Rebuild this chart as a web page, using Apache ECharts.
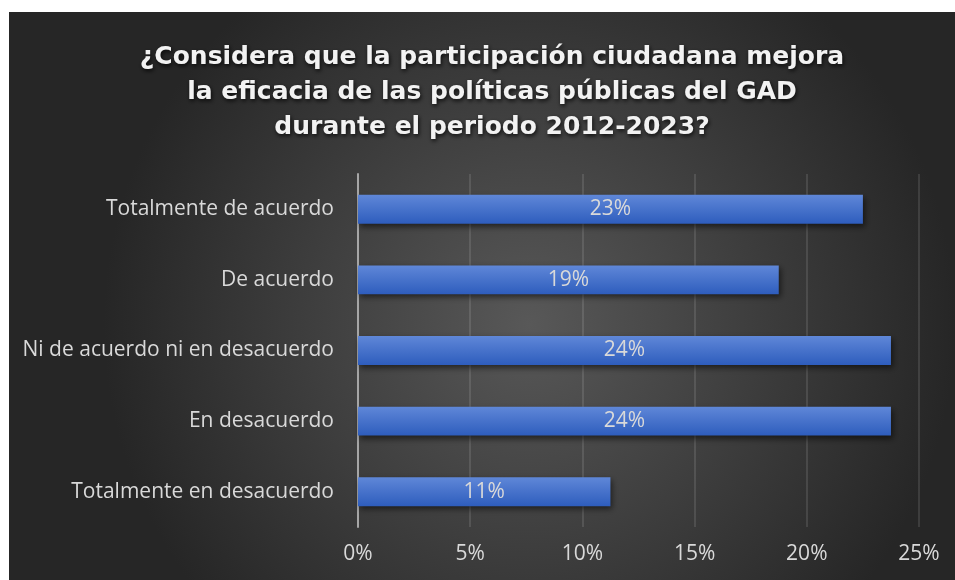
<!DOCTYPE html>
<html>
<head>
<meta charset="utf-8">
<script src="https://cdn.jsdelivr.net/npm/echarts@6/dist/echarts.min.js"></script>
<style>
  html, body { margin: 0; padding: 0; background: #fff; }
  #chart { width: 955px; height: 580px; }
</style>
</head>
<body>
<div id="chart"></div>
<script>
// respuestas en porcentaje (n = 80)
var categories = ['Totalmente de acuerdo', 'De acuerdo', 'Ni de acuerdo ni en desacuerdo', 'En desacuerdo', 'Totalmente en desacuerdo'];
var values = [22.5, 18.75, 23.75, 23.75, 11.25];
var ticks = [0, 5, 10, 15, 20, 25];
var titleText = '¿Considera que la participación ciudadana mejora\nla eficacia de las políticas públicas del GAD\ndurante el periodo 2012-2023?';

var myChart = echarts.init(document.getElementById('chart'));

var option = {
    backgroundColor: '#ffffff',
    animation: false,
    graphic: [{
        type: 'rect',
        z: -10,
        silent: true,
        shape: { x: 9, y: 12, width: 946, height: 568 },
        style: {
            fill: new echarts.graphic.RadialGradient(0.55, 0.55, 0.75, [
                { offset: 0, color: '#585858' },
                { offset: 1, color: '#262626' }
            ])
        }
    }],
    title: {
        text: titleText,
        left: 487,
        top: 35,
        textAlign: 'center',
        textStyle: {
            color: '#f2f2f2',
            fontFamily: 'DejaVu Sans',
            fontWeight: 'bold',
            fontSize: 25,
            lineHeight: 35,
            textShadowColor: 'rgba(0,0,0,0.8)',
            textShadowBlur: 4,
            textShadowOffsetX: 1,
            textShadowOffsetY: 2
        }
    },
    grid: {
        left: 358,
        right: 36,
        top: 174,
        bottom: 53
    },
    xAxis: {
        type: 'value',
        min: ticks[0],
        max: ticks[ticks.length - 1],
        interval: ticks[1] - ticks[0],
        axisLabel: {
            formatter: '{value}%',
            color: '#d9d9d9',
            fontFamily: 'Open Sans',
            fontSize: 21,
            margin: 17
        },
        axisLine: { show: false },
        axisTick: { show: false },
        splitLine: {
            lineStyle: { color: 'rgba(255,255,255,0.15)', width: 1.5 }
        }
    },
    yAxis: {
        type: 'category',
        inverse: true,
        data: categories,
        axisLabel: {
            color: '#d9d9d9',
            fontFamily: 'Open Sans',
            fontSize: 21,
            margin: 24
        },
        axisTick: { show: false },
        axisLine: {
            lineStyle: { color: '#a6a6a6', width: 2 }
        }
    },
    series: [{
        type: 'bar',
        data: values,
        barCategoryGap: '59%',
        itemStyle: {
            color: new echarts.graphic.LinearGradient(0, 0, 0, 1, [
                { offset: 0, color: '#5f87d8' },
                { offset: 1, color: '#2e5dbd' }
            ]),
            shadowColor: 'rgba(0,0,0,0.55)',
            shadowBlur: 6,
            shadowOffsetX: 2,
            shadowOffsetY: 3
        },
        label: {
            show: true,
            position: 'inside',
            color: '#d9d9d9',
            fontFamily: 'Open Sans',
            fontSize: 21,
            formatter: function (p) { return Math.round(p.value) + '%'; }
        }
    }]
};
myChart.setOption(option);
</script>
</body>
</html>
